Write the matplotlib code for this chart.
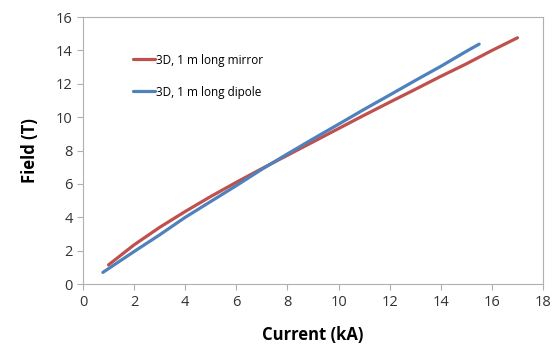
import matplotlib.pyplot as plt

# Field vs current
corrente_espelho = [1.0, 2, 3, 4, 5, 6, 7, 8, 9, 10, 11, 12, 13, 14, 15, 16, 17]
campo_espelho = [1.15, 2.35, 3.4, 4.35, 5.25, 6.1, 6.92, 7.72, 8.52, 9.32, 10.12,
                 10.9, 11.67, 12.45, 13.2, 14.0, 14.76]
corrente_dipolo = [0.78, 2, 3, 4, 5, 6, 7, 8, 9, 10, 11, 12, 13, 14, 15, 15.5]
campo_dipolo = [0.7, 1.95, 2.95, 4.0, 4.95, 5.9, 6.88, 7.8, 8.7, 9.58, 10.47,
                11.33, 12.2, 13.05, 13.95, 14.38]

plt.rcParams['font.family'] = ['Open Sans', 'DejaVu Sans']

fig = plt.figure(figsize=(5.53, 3.49), dpi=100)
ax = fig.add_axes([0.150, 0.186, 0.832, 0.765])

ax.plot(corrente_espelho, campo_espelho, color='#C0504D', lw=2.3,
        solid_capstyle='round', label='3D, 1 m long mirror')
ax.plot(corrente_dipolo, campo_dipolo, color='#4F81BD', lw=2.3,
        solid_capstyle='round', label='3D, 1 m long dipole')

ax.set_xlim(0, 18)
ax.set_ylim(0, 16)
ax.set_xticks(range(0, 19, 2))
ax.set_yticks(range(0, 17, 2))
for s in ax.spines.values():
    s.set_color('#B0B0B0')
ax.tick_params(colors='#B0B0B0', labelcolor='#333333', labelsize=10.5,
               length=4, direction='out')

ax.set_xlabel('Current (kA)', fontsize=12, fontweight='bold', labelpad=12)
ax.set_ylabel('Field (T)', fontsize=12, fontweight='bold', labelpad=12)

ax.legend(loc='upper left', bbox_to_anchor=(0.085, 0.903), frameon=False,
          fontsize=8.5, handlelength=1.9, handletextpad=0.05,
          labelspacing=1.6)

plt.savefig('out.png', dpi=100)
